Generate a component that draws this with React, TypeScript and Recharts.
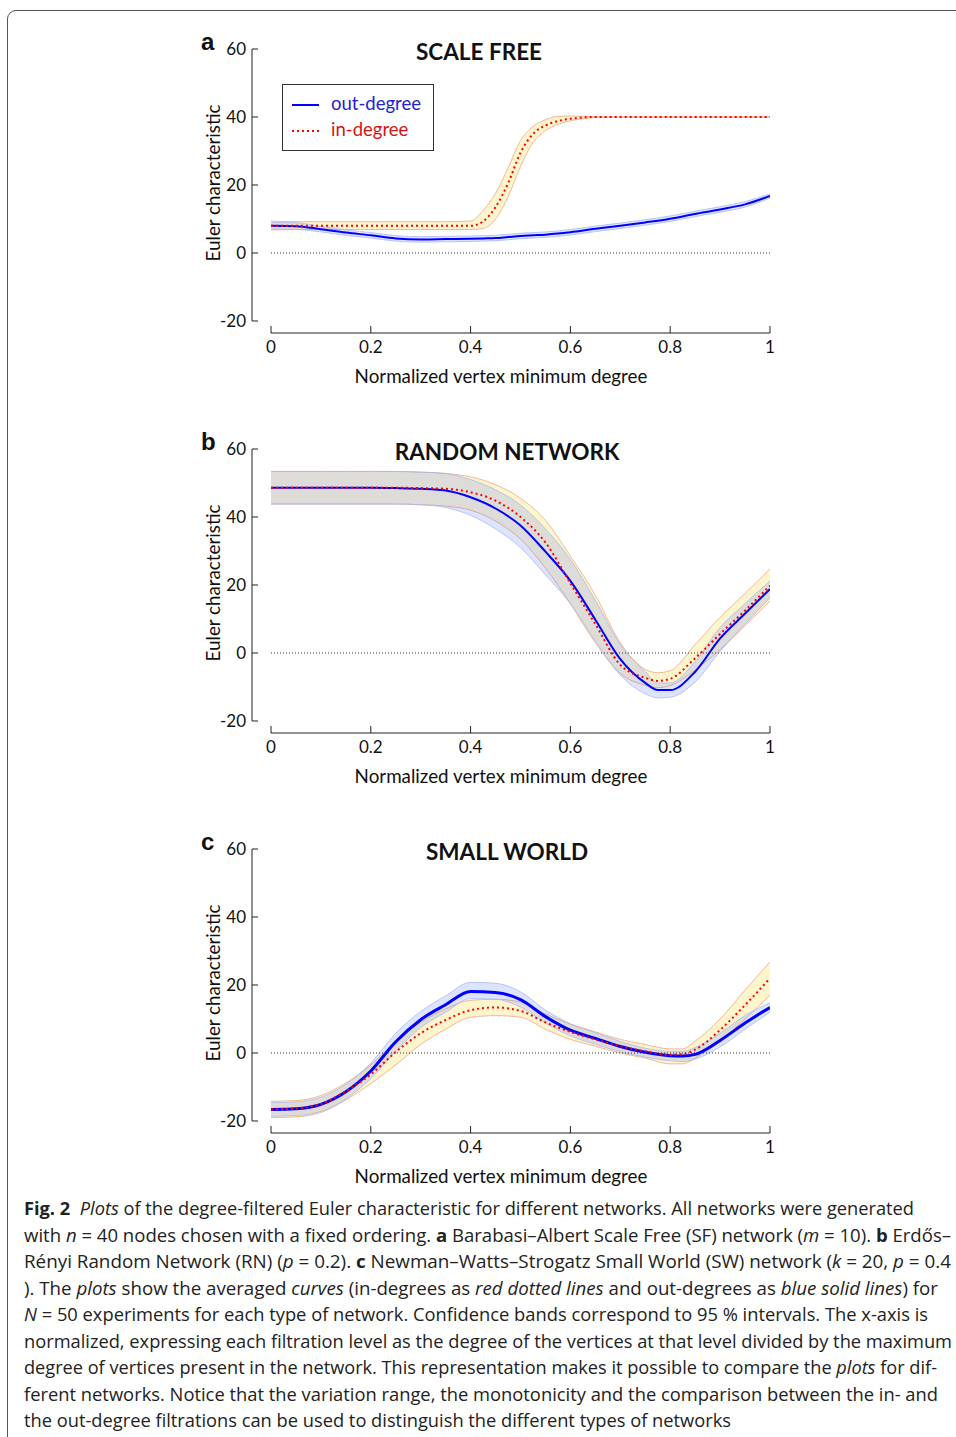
import React, { useLayoutEffect, useRef } from "react";
import { ComposedChart, Area, Line, XAxis, YAxis, ReferenceLine } from "recharts";

const FONT = "Lato, 'Open Sans', sans-serif";
const CAPTION_FONT = "'Open Sans', 'Noto Sans', sans-serif";

const xTicks = [0, 0.2, 0.4, 0.6, 0.8, 1];
const yTicks = [-20, 0, 20, 40, 60];
// axes sit a little away from the data box, like the original
const X_MIN = -0.0381;
const Y_MIN = -23.53;

// a: scale free
const sfX = [0, 0.05, 0.1, 0.15, 0.2, 0.25, 0.3, 0.35, 0.4, 0.425, 0.45, 0.475, 0.5, 0.525, 0.55, 0.575, 0.6, 0.65, 0.7, 0.75, 0.8, 0.85, 0.9, 0.95, 1];
const sfOut = [8.0, 7.9, 7.0, 6.0, 5.2, 4.3, 4.0, 4.1, 4.2, 4.3, 4.4, 4.7, 5.0, 5.2, 5.4, 5.7, 6.1, 7.1, 8.0, 9.0, 10.1, 11.5, 12.8, 14.3, 16.8];
const sfOutLo = [7.0, 6.9, 6.2, 5.2, 4.4, 3.5, 3.2, 3.3, 3.4, 3.5, 3.6, 3.9, 4.2, 4.4, 4.6, 4.9, 5.3, 6.3, 7.2, 8.2, 9.3, 10.7, 12.0, 13.5, 16.2];
const sfOutHi = [9.0, 8.9, 7.8, 6.8, 6.0, 5.1, 4.8, 4.9, 5.0, 5.1, 5.2, 5.5, 5.8, 6.0, 6.2, 6.5, 6.9, 7.9, 8.8, 9.8, 10.9, 12.3, 13.6, 15.1, 17.4];
const sfIn = [8.0, 8.0, 8.0, 8.0, 8.0, 8.0, 8.0, 8.0, 8.0, 9.3, 13.5, 20.5, 29.5, 35.0, 37.5, 38.8, 39.5, 40.0, 40.0, 40.0, 40.0, 40.0, 40.0, 40.0, 40.0];
const sfInLo = [6.8, 6.9, 6.9, 6.9, 6.9, 6.9, 6.9, 6.9, 6.9, 7.2, 10.0, 16.5, 25.5, 32.5, 36.0, 37.8, 38.9, 39.8, 40.0, 40.0, 40.0, 40.0, 40.0, 40.0, 40.0];
const sfInHi = [9.4, 9.2, 9.2, 9.2, 9.2, 9.2, 9.2, 9.2, 9.4, 12.5, 17.5, 25.0, 33.0, 37.2, 39.2, 40.2, 40.3, 40.1, 40.0, 40.0, 40.0, 40.0, 40.0, 40.0, 40.0];

// b: random network
const rnX = [0, 0.05, 0.1, 0.15, 0.2, 0.25, 0.3, 0.35, 0.4, 0.45, 0.5, 0.55, 0.6, 0.65, 0.7, 0.75, 0.775, 0.8, 0.85, 0.9, 0.95, 1];
const rnOut = [48.6, 48.6, 48.6, 48.6, 48.6, 48.5, 48.3, 47.8, 45.8, 42.5, 37.5, 29.8, 21.2, 9.8, -1.8, -8.8, -10.9, -10.9, -5.5, 4.3, 11.6, 18.8];
const rnOutLo = [43.8, 43.8, 43.8, 43.8, 43.8, 43.8, 43.6, 42.8, 40.5, 36.5, 31.0, 23.0, 14.5, 3.5, -6.5, -12.0, -13.2, -13.0, -8.5, 0.5, 8.5, 16.3];
const rnOutHi = [53.4, 53.4, 53.4, 53.4, 53.4, 53.4, 53.2, 52.8, 51.0, 48.0, 43.5, 36.5, 27.5, 15.5, 2.5, -5.5, -8.8, -8.8, -2.5, 7.5, 14.5, 21.2];
const rnIn = [48.6, 48.6, 48.6, 48.6, 48.6, 48.6, 48.5, 48.3, 47.3, 44.8, 40.0, 32.5, 20.5, 8.5, -3.5, -7.3, -8.2, -7.6, -1.5, 5.6, 12.5, 19.8];
const rnInLo = [43.8, 43.8, 43.8, 43.8, 43.8, 43.8, 43.6, 43.2, 42.0, 38.8, 33.5, 25.0, 14.5, 3.0, -6.0, -9.5, -10.2, -9.6, -5.0, 1.0, 8.0, 15.3];
const rnInHi = [53.4, 53.4, 53.4, 53.4, 53.4, 53.4, 53.2, 52.8, 51.8, 49.5, 45.5, 39.0, 28.5, 17.0, 3.0, -4.8, -5.8, -5.2, 2.5, 10.5, 17.5, 24.8];

// c: small world
const swX = [0, 0.05, 0.1, 0.15, 0.2, 0.25, 0.3, 0.35, 0.4, 0.45, 0.5, 0.55, 0.6, 0.65, 0.7, 0.75, 0.8, 0.825, 0.85, 0.9, 0.95, 1];
const swOut = [-16.6, -16.4, -15.1, -11.4, -5.3, 3.3, 9.8, 14.2, 18.1, 17.8, 15.7, 10.7, 6.7, 4.3, 1.9, 0.2, -0.8, -0.9, -0.4, 3.7, 8.8, 13.4];
const swOutLo = [-18.6, -18.4, -17.2, -13.5, -7.5, 0.5, 7.5, 12.0, 16.0, 15.8, 13.5, 8.8, 5.0, 2.6, 0.4, -1.2, -2.3, -2.5, -1.8, 1.8, 7.0, 12.0];
const swOutHi = [-14.6, -14.4, -13.0, -9.2, -3.0, 5.8, 12.2, 16.8, 20.8, 20.5, 18.0, 12.6, 8.6, 6.0, 3.4, 1.4, 0.5, 0.5, 1.6, 5.8, 11.0, 14.8];
const swIn = [-16.6, -16.3, -15.0, -11.2, -6.3, 0.3, 5.8, 9.7, 12.6, 13.4, 12.4, 9.0, 6.2, 4.0, 2.0, 0.5, -0.5, -0.3, 1.0, 6.8, 14.1, 22.0];
const swInLo = [-19.0, -18.8, -17.5, -13.8, -9.0, -3.5, 2.5, 7.0, 10.5, 11.0, 10.5, 7.0, 4.0, 2.0, 0.0, -1.5, -3.2, -3.2, -1.5, 3.5, 10.0, 17.0];
const swInHi = [-14.2, -14.0, -12.5, -8.8, -3.5, 3.5, 9.0, 13.0, 15.5, 15.8, 15.0, 11.5, 8.5, 6.2, 4.0, 2.5, 1.2, 1.2, 3.5, 10.0, 18.5, 26.8];

const BLUE = "#0000ff";
const RED = "#ff0000";

interface PanelProps {
  top: number;
  letter: string;
  title: string;
  titleX: number;
  xs: number[];
  outMean: number[];
  outLo: number[];
  outHi: number[];
  inMean: number[];
  inLo: number[];
  inHi: number[];
  lineWidth: number;
  legend?: boolean;
}

function Panel(p: PanelProps) {
  const rows = p.xs.map((x, i) => ({
    x,
    out: p.outMean[i],
    outBand: [p.outLo[i], p.outHi[i]],
    inn: p.inMean[i],
    inBand: [p.inLo[i], p.inHi[i]],
  }));
  const tick = { fill: "#111", fontSize: 17, fontFamily: FONT };

  return (
    <>
      <div style={{ position: "absolute", left: 0, top: p.top, width: 800, height: 400 }}>
        <ComposedChart width={800} height={400} data={rows} margin={{ top: 49, right: 30, bottom: 37, left: 212 }}>
          <XAxis
            dataKey="x"
            type="number"
            domain={[X_MIN, 1]}
            ticks={xTicks}
            interval={0}
            allowDataOverflow
            axisLine={false}
            tickLine={{ stroke: "#222" }}
            tickSize={-7}
            tickMargin={15}
            height={30}
            tick={tick}
          />
          <YAxis
            type="number"
            domain={[Y_MIN, 60]}
            ticks={yTicks}
            interval={0}
            allowDataOverflow
            axisLine={false}
            tickLine={{ stroke: "#222" }}
            tickSize={-6}
            tickMargin={12}
            width={40}
            tick={tick}
          />
          <Area
            type="monotone"
            dataKey="inBand"
            fill="#fff5cd"
            fillOpacity={1}
            stroke="#f0a078"
            strokeWidth={1}
            strokeOpacity={0.75}
            dot={false}
            activeDot={false}
            isAnimationActive={false}
          />
          <Area
            type="monotone"
            dataKey="outBand"
            fill="#6482ff"
            fillOpacity={0.22}
            stroke="#aab9f2"
            strokeWidth={1}
            strokeOpacity={0.8}
            dot={false}
            activeDot={false}
            isAnimationActive={false}
          />
          <ReferenceLine
            segment={[{ x: 0, y: 0 }, { x: 1, y: 0 }]}
            stroke="#333"
            strokeDasharray="1 2"
            ifOverflow="visible"
          />
          <ReferenceLine
            segment={[{ x: X_MIN, y: -20 }, { x: X_MIN, y: 60 }]}
            stroke="#222"
            ifOverflow="visible"
          />
          <ReferenceLine
            segment={[{ x: 0, y: Y_MIN }, { x: 1, y: Y_MIN }]}
            stroke="#222"
            ifOverflow="visible"
          />
          <Line
            type="monotone"
            dataKey="out"
            stroke={BLUE}
            strokeWidth={p.lineWidth}
            dot={false}
            activeDot={false}
            isAnimationActive={false}
          />
          <Line
            type="monotone"
            dataKey="inn"
            stroke={RED}
            strokeWidth={2}
            strokeDasharray="2 3"
            dot={false}
            activeDot={false}
            isAnimationActive={false}
          />
        </ComposedChart>
      </div>

      <div style={{ position: "absolute", left: 201, top: p.top + 28, fontFamily: "'Liberation Sans', Arial, sans-serif", fontWeight: 700, fontSize: 24, lineHeight: "28px", color: "#111" }}>
        {p.letter}
      </div>
      <div style={{ position: "absolute", left: p.titleX, top: p.top + 51, transform: "translate(-50%, -50%)", fontFamily: FONT, fontWeight: 700, fontSize: 22.5, whiteSpace: "nowrap", color: "#111" }}>
        {p.title}
      </div>
      <div style={{ position: "absolute", left: 212, top: p.top + 183, transform: "translate(-50%, -50%) rotate(-90deg)", fontFamily: FONT, fontSize: 18.8, whiteSpace: "nowrap", color: "#111" }}>
        Euler characteristic
      </div>
      <div style={{ position: "absolute", left: 501, top: p.top + 375, transform: "translate(-50%, -50%)", fontFamily: FONT, fontSize: 18.8, whiteSpace: "nowrap", color: "#111" }}>
        Normalized vertex minimum degree
      </div>

      {p.legend && (
        <div style={{ position: "absolute", left: 282, top: p.top + 84, width: 150, height: 65, border: "1px solid #333", background: "#fff", fontFamily: FONT, fontSize: 18.5 }}>
          <svg width={40} height={60} style={{ position: "absolute", left: 0, top: 0 }}>
            <line x1={9} x2={36} y1={20} y2={20} stroke={BLUE} strokeWidth={2} />
            <line x1={9} x2={36} y1={46} y2={46} stroke={RED} strokeWidth={2} strokeDasharray="2 3" />
          </svg>
          <div style={{ position: "absolute", left: 48, top: 7, color: "#2222d0", lineHeight: "22px" }}>out-degree</div>
          <div style={{ position: "absolute", left: 48, top: 33, color: "#d41414", lineHeight: "22px" }}>in-degree</div>
        </div>
      )}
    </>
  );
}

function CapLine({ y, target, children }: { y: number; target: number; children: React.ReactNode }) {
  const ref = useRef<HTMLSpanElement>(null);
  useLayoutEffect(() => {
    const el = ref.current;
    if (!el) return;
    el.style.transform = "none";
    const w = el.getBoundingClientRect().width;
    if (w > 0) el.style.transform = `scaleX(${target / w})`;
  }, [target]);
  return (
    <span
      ref={ref}
      style={{
        position: "absolute",
        left: 24,
        top: y - 13,
        display: "inline-block",
        whiteSpace: "nowrap",
        transformOrigin: "0 0",
        lineHeight: "26px",
        fontFamily: CAPTION_FONT,
        fontSize: 18,
        color: "#222",
      }}
    >
      {children}
    </span>
  );
}

export default function App() {
  return (
    <div style={{ position: "absolute", left: 0, top: 0, width: 956, height: 1437, overflow: "hidden", background: "#fff" }}>
      <div style={{ position: "absolute", left: 7, top: 10, width: 1100, height: 1600, border: "1px solid #555", borderRadius: 9 }} />

      <Panel top={0} letter="a" title="SCALE FREE" titleX={479} xs={sfX} outMean={sfOut} outLo={sfOutLo} outHi={sfOutHi} inMean={sfIn} inLo={sfInLo} inHi={sfInHi} lineWidth={2} legend />
      <Panel top={400} letter="b" title="RANDOM NETWORK" titleX={507} xs={rnX} outMean={rnOut} outLo={rnOutLo} outHi={rnOutHi} inMean={rnIn} inLo={rnInLo} inHi={rnInHi} lineWidth={2} />
      <Panel top={800} letter="c" title="SMALL WORLD" titleX={507} xs={swX} outMean={swOut} outLo={swOutLo} outHi={swOutHi} inMean={swIn} inLo={swInLo} inHi={swInHi} lineWidth={3} />

      <CapLine y={1208} target={890}>
        <b>Fig. 2</b>&nbsp;&nbsp;<i>Plots</i> of the degree-filtered Euler characteristic for different networks. All networks were generated
      </CapLine>
      <CapLine y={1235} target={927}>
        with <i>n</i> = 40 nodes chosen with a fixed ordering. <b>a</b> Barabasi–Albert Scale Free (SF) network (<i>m</i> = 10). <b>b</b> Erdős–
      </CapLine>
      <CapLine y={1261} target={927}>
        Rényi Random Network (RN) (<i>p</i> = 0.2). <b>c</b> Newman–Watts–Strogatz Small World (SW) network (<i>k</i> = 20, <i>p</i> = 0.4
      </CapLine>
      <CapLine y={1288} target={914}>
        ). The <i>plots</i> show the averaged <i>curves</i> (in-degrees as <i>red dotted lines</i> and out-degrees as <i>blue solid lines</i>) for
      </CapLine>
      <CapLine y={1314} target={904}>
        <i>N</i> = 50 experiments for each type of network. Confidence bands correspond to 95 % intervals. The x-axis is
      </CapLine>
      <CapLine y={1341} target={928}>
        normalized, expressing each filtration level as the degree of the vertices at that level divided by the maximum
      </CapLine>
      <CapLine y={1367} target={913}>
        degree of vertices present in the network. This representation makes it possible to compare the <i>plots</i> for dif-
      </CapLine>
      <CapLine y={1394} target={914}>
        ferent networks. Notice that the variation range, the monotonicity and the comparison between the in- and
      </CapLine>
      <CapLine y={1420} target={707}>
        the out-degree filtrations can be used to distinguish the different types of networks
      </CapLine>
    </div>
  );
}
